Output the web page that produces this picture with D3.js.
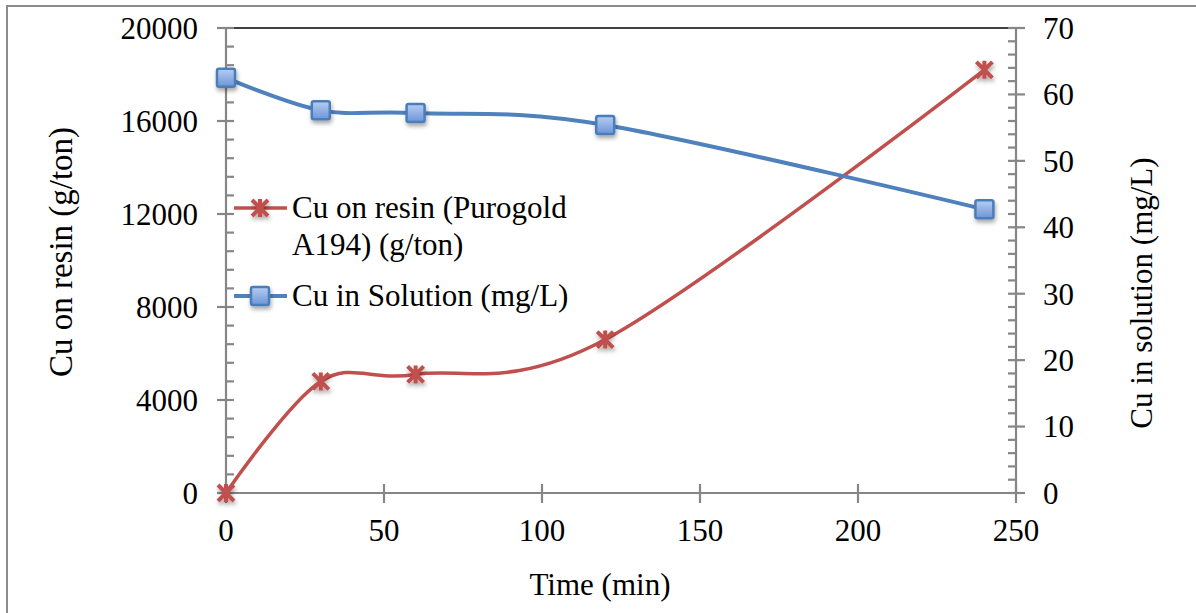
<!DOCTYPE html>
<html>
<head>
<meta charset="utf-8">
<script src="https://cdn.jsdelivr.net/npm/d3@7"></script>
<style>
    body { margin: 0; background: #fff; }
    text { font-family: "Liberation Serif", "Times New Roman", serif; fill: #000; }
</style>
</head>
<body>
<div id="chart-container"></div>
<script>
// data
const times = [0, 30, 60, 120, 240];
const cuOnResin = [0, 4800, 5100, 6600, 18200];     // g/ton, left axis
const cuInSolution = [62.5, 57.6, 57.2, 55.4, 42.7]; // mg/L, right axis
const xTicks = [0, 50, 100, 150, 200, 250];
const leftTicks = [0, 4000, 8000, 12000, 16000, 20000];
const rightTicks = [0, 10, 20, 30, 40, 50, 60, 70];

const width = 1196;
const height = 613;
const margin = ({top: 28, right: 180, bottom: 120, left: 226});

const x = d3.scaleLinear().domain([0, 250]).range([margin.left, width - margin.right]);
const yL = d3.scaleLinear().domain([0, 20000]).range([height - margin.bottom, margin.top]);
const yR = d3.scaleLinear().domain([0, 70]).range([height - margin.bottom, margin.top]);

const red = "#C0504D";
const blue = "#4F81BD";
const axisGray = "#868686";

const svg = d3.select("#chart-container")
    .append("svg")
    .attr("width", width)
    .attr("height", height);

const defs = svg.append("defs");
const grad = defs.append("linearGradient")
    .attr("id", "sq")
    .attr("x1", "0").attr("y1", "0").attr("x2", "0").attr("y2", "1");
grad.append("stop").attr("offset", "0%").attr("stop-color", "#B7CDF1");
grad.append("stop").attr("offset", "100%").attr("stop-color", "#6C95D8");

const shadow = defs.append("filter").attr("id", "shadow")
    .attr("x", "-50%").attr("y", "-50%").attr("width", "200%").attr("height", "200%");
shadow.append("feDropShadow")
    .attr("dx", 1).attr("dy", 3).attr("stdDeviation", 2)
    .attr("flood-color", "#000").attr("flood-opacity", 0.35);

// outer chart border (cropped at right/bottom)
svg.append("rect")
    .attr("x", 7).attr("y", 6)
    .attr("width", width).attr("height", height)
    .attr("fill", "none")
    .attr("stroke", "#8c8c8c")
    .attr("stroke-width", 2);

// top border of plot area
svg.append("line")
    .attr("x1", x(0)).attr("x2", x(250))
    .attr("y1", yL(20000)).attr("y2", yL(20000))
    .attr("stroke", "#000").attr("stroke-width", 1.5);

// minor ticks
const leftMinor = d3.range(0, 20001, 800).filter(v => v % 4000 !== 0);
const rightMinor = d3.range(0, 71, 2).filter(v => v % 10 !== 0);

const axes = svg.append("g").attr("stroke", axisGray).attr("stroke-width", 2.2);

axes.selectAll(".lminor").data(leftMinor).join("line")
    .attr("x1", x(0)).attr("x2", x(0) + 8)
    .attr("y1", d => yL(d)).attr("y2", d => yL(d));
axes.selectAll(".lmajor").data(leftTicks).join("line")
    .attr("x1", x(0) - 9).attr("x2", x(0) + 8)
    .attr("y1", d => yL(d)).attr("y2", d => yL(d));

axes.selectAll(".rminor").data(rightMinor).join("line")
    .attr("x1", x(250) - 8).attr("x2", x(250))
    .attr("y1", d => yR(d)).attr("y2", d => yR(d));
axes.selectAll(".rmajor").data(rightTicks).join("line")
    .attr("x1", x(250) - 8).attr("x2", x(250) + 9)
    .attr("y1", d => yR(d)).attr("y2", d => yR(d));

axes.selectAll(".xmajor").data(xTicks).join("line")
    .attr("x1", d => x(d)).attr("x2", d => x(d))
    .attr("y1", yL(0) - 9).attr("y2", yL(0) + 10);

axes.append("line").attr("x1", x(0)).attr("x2", x(0)).attr("y1", yL(0)).attr("y2", yL(20000) - 1);
axes.append("line").attr("x1", x(250)).attr("x2", x(250)).attr("y1", yL(0)).attr("y2", yL(20000) - 1);
axes.append("line").attr("x1", x(0)).attr("x2", x(250)).attr("y1", yL(0)).attr("y2", yL(0));

// tick labels
svg.append("g").selectAll("text").data(leftTicks).join("text")
    .attr("x", x(0) - 28).attr("y", d => yL(d))
    .attr("dy", "0.35em")
    .attr("text-anchor", "end")
    .style("font-size", "31px")
    .text(d => d);

svg.append("g").selectAll("text").data(rightTicks).join("text")
    .attr("x", x(250) + 27).attr("y", d => yR(d))
    .attr("dy", "0.35em")
    .style("font-size", "31px")
    .text(d => d);

svg.append("g").selectAll("text").data(xTicks).join("text")
    .attr("x", d => x(d)).attr("y", yL(0) + 48)
    .attr("text-anchor", "middle")
    .style("font-size", "31px")
    .text(d => d);

// axis titles
svg.append("text")
    .attr("transform", `translate(72,252) rotate(-90)`)
    .attr("text-anchor", "middle")
    .style("font-size", "33px")
    .text("Cu on resin (g/ton)");

svg.append("text")
    .attr("transform", `translate(1152,293) rotate(-90)`)
    .attr("text-anchor", "middle")
    .style("font-size", "31px")
    .text("Cu in solution (mg/L)");

svg.append("text")
    .attr("x", 600).attr("y", 595)
    .attr("text-anchor", "middle")
    .style("font-size", "31px")
    .text("Time (min)");

// series
const curve = d3.curveCardinal.tension(0);
const resin = times.map((t, i) => ({t, v: cuOnResin[i]}));
const sol = times.map((t, i) => ({t, v: cuInSolution[i]}));

svg.append("path")
    .datum(resin)
    .attr("fill", "none")
    .attr("stroke", red)
    .attr("stroke-width", 3.5)
    .attr("d", d3.line().x(d => x(d.t)).y(d => yL(d.v)).curve(curve));

svg.append("path")
    .datum(sol)
    .attr("fill", "none")
    .attr("stroke", blue)
    .attr("stroke-width", 4)
    .attr("d", d3.line().x(d => x(d.t)).y(d => yR(d.v)).curve(curve));

function star(g, cx, cy) {
    const s = 8;
    g.append("path")
        .attr("d", `M${cx - s},${cy - s}L${cx + s},${cy + s}M${cx - s},${cy + s}L${cx + s},${cy - s}M${cx},${cy - s - 1}L${cx},${cy + s + 1}`)
        .attr("stroke", red)
        .attr("stroke-width", 4)
        .attr("fill", "none")
        .attr("filter", "url(#shadow)");
}

function square(g, cx, cy) {
    g.append("rect")
        .attr("x", cx - 9).attr("y", cy - 9)
        .attr("width", 18).attr("height", 18)
        .attr("rx", 2)
        .attr("fill", "url(#sq)")
        .attr("stroke", "#4A7EBB")
        .attr("stroke-width", 2.5)
        .attr("filter", "url(#shadow)");
}

const marks = svg.append("g");
resin.forEach(d => star(marks, x(d.t), yL(d.v)));
sol.forEach(d => square(marks, x(d.t), yR(d.v)));

// legend
const legend = svg.append("g");
legend.append("line")
    .attr("x1", 234).attr("x2", 287).attr("y1", 208).attr("y2", 208)
    .attr("stroke", red).attr("stroke-width", 3.5);
star(legend, 260, 208);
legend.append("text").attr("x", 292).attr("y", 218).style("font-size", "31px").text("Cu on resin (Purogold");
legend.append("text").attr("x", 292).attr("y", 255).style("font-size", "31px").text("A194) (g/ton)");

legend.append("line")
    .attr("x1", 234).attr("x2", 287).attr("y1", 296).attr("y2", 296)
    .attr("stroke", blue).attr("stroke-width", 4);
square(legend, 260, 296);
legend.append("text").attr("x", 292).attr("y", 306).style("font-size", "31px").text("Cu in Solution (mg/L)");
</script>
</body>
</html>
